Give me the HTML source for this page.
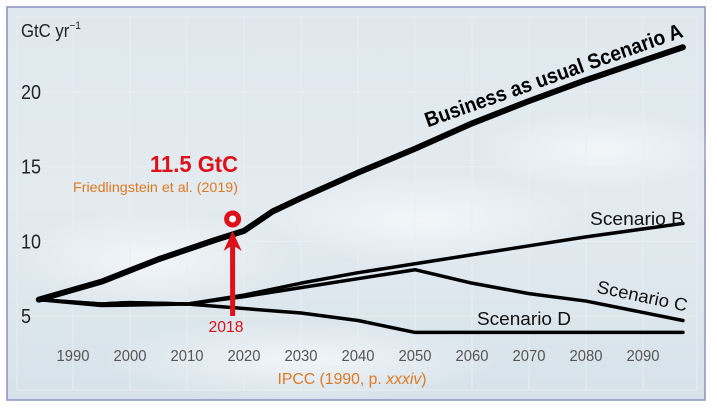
<!DOCTYPE html>
<html><head><meta charset="utf-8"><style>
body{margin:0;background:#fff;}
svg{display:block;font-family:"Liberation Sans",sans-serif;}
</style></head><body>
<svg width="717" height="410" viewBox="0 0 717 410">
<defs>
<linearGradient id="sky" x1="0" y1="0" x2="0" y2="1">
<stop offset="0" stop-color="#dfe8ee"/><stop offset="0.5" stop-color="#e3ebf0"/><stop offset="1" stop-color="#d6e2ea"/>
</linearGradient>
<radialGradient id="cloud" cx="0.5" cy="0.5" r="0.5"><stop offset="0" stop-color="#f4f7f9" stop-opacity="0.9"/><stop offset="1" stop-color="#f4f7f9" stop-opacity="0"/></radialGradient>
</defs>
<rect x="7" y="7" width="698" height="393" fill="url(#sky)" stroke="#8c90c4" stroke-width="1.5"/>
<ellipse cx="150" cy="260" rx="140" ry="50" fill="url(#cloud)"/>
<ellipse cx="420" cy="220" rx="160" ry="45" fill="url(#cloud)"/>
<ellipse cx="600" cy="150" rx="120" ry="40" fill="url(#cloud)"/>
<ellipse cx="300" cy="360" rx="200" ry="40" fill="url(#cloud)"/>
<g id="grid"></g>
<g id="ticks"></g>
<g id="lines"></g>
<text x="21" y="37" font-size="18" textLength="60" lengthAdjust="spacingAndGlyphs" fill="#222">GtC yr<tspan font-size="11" dy="-8">−1</tspan></text>
<text transform="translate(556,82) rotate(-19.5)" text-anchor="middle" font-size="21" font-weight="bold" textLength="272" lengthAdjust="spacingAndGlyphs" fill="#000">Business as usual Scenario A</text>
<text x="637" y="225" text-anchor="middle" font-size="18" textLength="94" lengthAdjust="spacingAndGlyphs" fill="#111">Scenario B</text>
<text transform="translate(641,302) rotate(12)" text-anchor="middle" font-size="18" textLength="92" lengthAdjust="spacingAndGlyphs" fill="#111">Scenario C</text>
<text x="524" y="325" text-anchor="middle" font-size="18" textLength="94" lengthAdjust="spacingAndGlyphs" fill="#111">Scenario D</text>
<text x="238" y="172" text-anchor="end" font-size="23" font-weight="bold" textLength="88" lengthAdjust="spacingAndGlyphs" fill="#e0101a">11.5 GtC</text>
<text x="238" y="192" text-anchor="end" font-size="14" textLength="165" lengthAdjust="spacingAndGlyphs" fill="#e07820">Friedlingstein et al. (2019)</text>
<g id="obs"></g>
<text x="226" y="332" text-anchor="middle" font-size="16" textLength="35" lengthAdjust="spacingAndGlyphs" fill="#e0101a">2018</text>
<text x="352" y="384" text-anchor="middle" font-size="16" textLength="149" lengthAdjust="spacingAndGlyphs" fill="#e07820">IPCC (1990, p. <tspan font-style="italic">xxxiv</tspan>)</text>
</svg>
<script>
const xTicks=[1990,2000,2010,2020,2030,2040,2050,2060,2070,2080,2090];
const yTicks=[5,10,15,20];
const aYears=[1984,1995,2005,2015,2020,2025,2030,2040,2050,2060,2070,2080,2090,2097];
const aVals=[6.1,7.3,8.8,10.1,10.7,12.0,12.9,14.6,16.2,17.9,19.4,20.8,22.1,23.0];
const bYears=[1984,1995,2000,2010,2020,2030,2040,2050,2060,2070,2080,2097];
const bVals=[6.1,5.8,5.9,5.8,6.4,7.2,7.9,8.5,9.1,9.7,10.3,11.2];
const cYears=[1984,1995,2000,2010,2020,2030,2040,2050,2060,2070,2080,2097];
const cVals=[6.1,5.8,5.9,5.8,6.3,6.9,7.5,8.1,7.2,6.5,6.0,4.7];
const dYears=[1984,1995,2010,2020,2030,2040,2050,2070,2097];
const dVals=[6.1,5.7,5.8,5.5,5.2,4.7,3.9,3.9,3.9];
const obsYear=[2018];
const obsVal=[11.5];
const X=y=>73+(y-1990)*5.7;
const Y=v=>316-(v-5)*14.93;
const NS='http://www.w3.org/2000/svg';
function mk(t,a,p){const e=document.createElementNS(NS,t);for(const k in a)e.setAttribute(k,a[k]);p.appendChild(e);return e;}
const grid=document.getElementById('grid'),ticks=document.getElementById('ticks'),lines=document.getElementById('lines'),obs=document.getElementById('obs');
mk('rect',{x:17,y:17,width:680,height:373,fill:'none',stroke:'#e9eef2','stroke-width':1},grid);
xTicks.forEach(t=>{const l=mk('line',{x1:X(t),x2:X(t),y1:17,y2:390,stroke:'#e9eef2','stroke-width':1},grid);


const tx=mk('text',{x:X(t),y:361,'text-anchor':'middle','font-size':16,textLength:33,lengthAdjust:'spacingAndGlyphs',fill:'#555'},ticks);tx.textContent=t;

});
yTicks.forEach(t=>{const l=mk('line',{x1:17,x2:697,y1:Y(t),y2:Y(t),stroke:'#e9eef2','stroke-width':1},grid);


const s=String(t);
const tx=mk('text',{x:21,y:Y(t)+7,'font-size':20,textLength:s.length*10,lengthAdjust:'spacingAndGlyphs',fill:'#222'},ticks);tx.textContent=s;

});
function series(ys,vs,w,name){const p=mk('polyline',{points:ys.map((y,i)=>X(y)+','+Y(vs[i])).join(' '),fill:'none',stroke:'#000','stroke-width':w,'stroke-linejoin':'round','stroke-linecap':'round'},lines);

}
series(aYears,aVals,6,'scenario-a-line');
series(bYears,bVals,3.5,'scenario-b-line');
series(cYears,cVals,3.5,'scenario-c-line');
series(dYears,dVals,3.5,'scenario-d-line');
const ox=X(obsYear[0]),oy=Y(obsVal[0]);
const ar=mk('line',{x1:ox,x2:ox,y1:Y(5),y2:oy+22,stroke:'#e0101a','stroke-width':5},obs);


const ah=mk('polygon',{points:`${ox},${oy+12} ${ox-9},${oy+32} ${ox},${oy+26} ${ox+9},${oy+32}`,fill:'#e0101a'},obs);


const c=mk('circle',{cx:ox,cy:oy,r:6,fill:'#fff',stroke:'#e0101a','stroke-width':5},obs);


</script>
</body></html>
